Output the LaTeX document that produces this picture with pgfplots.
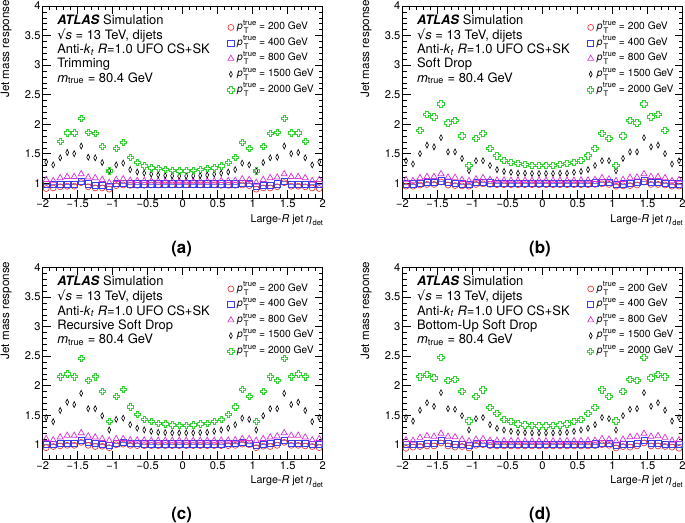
\documentclass[border=0pt]{standalone}
\usepackage{fontspec}
\setmainfont{TeX Gyre Heros}
\newfontfamily\djv{DejaVu Sans}
\usepackage{pgfplots}
\pgfplotsset{compat=1.18}
\usepackage{pgfplotstable}

\definecolor{cr}{RGB}{235,60,60}
\definecolor{cb}{RGB}{60,60,235}
\definecolor{cm}{RGB}{215,50,215}
\definecolor{cg}{RGB}{50,210,50}

\pgfdeclareplotmark{ocross}{%
 \pgfpathmoveto{\pgfqpoint{-0.36\pgfplotmarksize}{\pgfplotmarksize}}%
 \pgfpathlineto{\pgfqpoint{0.36\pgfplotmarksize}{\pgfplotmarksize}}%
 \pgfpathlineto{\pgfqpoint{0.36\pgfplotmarksize}{0.36\pgfplotmarksize}}%
 \pgfpathlineto{\pgfqpoint{\pgfplotmarksize}{0.36\pgfplotmarksize}}%
 \pgfpathlineto{\pgfqpoint{\pgfplotmarksize}{-0.36\pgfplotmarksize}}%
 \pgfpathlineto{\pgfqpoint{0.36\pgfplotmarksize}{-0.36\pgfplotmarksize}}%
 \pgfpathlineto{\pgfqpoint{0.36\pgfplotmarksize}{-\pgfplotmarksize}}%
 \pgfpathlineto{\pgfqpoint{-0.36\pgfplotmarksize}{-\pgfplotmarksize}}%
 \pgfpathlineto{\pgfqpoint{-0.36\pgfplotmarksize}{-0.36\pgfplotmarksize}}%
 \pgfpathlineto{\pgfqpoint{-\pgfplotmarksize}{-0.36\pgfplotmarksize}}%
 \pgfpathlineto{\pgfqpoint{-\pgfplotmarksize}{0.36\pgfplotmarksize}}%
 \pgfpathlineto{\pgfqpoint{-0.36\pgfplotmarksize}{0.36\pgfplotmarksize}}%
 \pgfpathclose\pgfusepathqstroke}

\newcommand{\fs}{\fontsize{13}{14.3}\selectfont}
\newcommand{\lfs}{\fontsize{10.3}{12}\selectfont}
\newcommand{\tfs}{\fontsize{11.2}{12}\selectfont}
\newcommand{\xfs}{\fontsize{10.8}{13}\selectfont}
\newcommand{\yfs}{\fontsize{11.7}{13}\selectfont}
\newcommand{\sfs}{\fontsize{7.7}{9}\selectfont}
\newcommand{\xsfs}{\fontsize{7.6}{9}\selectfont}
\newcommand{\ptt}{\textit{p}\kern0.3pt\makebox[0pt][l]{\raisebox{0.8ex}{\sfs true}}\makebox[0pt][l]{\kern0.8pt\raisebox{-0.75ex}{\sfs T}}\hphantom{\sfs true}}

% columns: eta, 200, 400, 800, 1500, 2000 GeV
\pgfplotstableread{
x r b m k g
-1.95 0.91 0.975 1.06 1.36 nan
-1.85 0.92 0.975 1.04 1.31 nan
-1.75 0.94 0.985 1.09 1.43 1.71
-1.65 0.95 0.985 1.11 1.52 1.85
-1.55 0.95 0.985 1.11 1.50 1.85
-1.45 1.01 1.025 1.155 1.63 2.10
-1.35 0.94 0.99 1.10 1.44 1.86
-1.25 0.92 0.97 1.09 1.43 1.84
-1.15 0.92 0.97 1.06 1.35 1.62
-1.05 0.90 0.953 1.01 1.21 1.21
-0.95 0.96 1.00 1.06 1.31 1.59
-0.85 0.97 1.00 1.07 1.34 1.69
-0.75 0.965 0.99 1.045 1.23 1.44
-0.65 0.965 0.99 1.04 1.19 1.35
-0.55 0.965 0.99 1.04 1.17 1.29
-0.45 0.97 0.99 1.035 1.155 1.26
-0.35 0.97 0.99 1.035 1.14 1.245
-0.25 0.97 0.99 1.03 1.13 1.23
-0.15 0.97 0.99 1.03 1.125 1.215
-0.05 0.97 0.99 1.03 1.12 1.21
0.05 0.97 0.99 1.03 1.12 1.21
0.15 0.97 0.99 1.03 1.125 1.215
0.25 0.97 0.99 1.03 1.13 1.23
0.35 0.97 0.99 1.035 1.14 1.245
0.45 0.97 0.99 1.035 1.155 1.26
0.55 0.965 0.99 1.04 1.17 1.29
0.65 0.965 0.99 1.04 1.19 1.35
0.75 0.965 0.99 1.045 1.23 1.44
0.85 0.97 1.00 1.07 1.34 1.69
0.95 0.96 1.00 1.06 1.31 1.59
1.05 0.90 0.953 1.01 1.21 1.21
1.15 0.92 0.97 1.06 1.35 1.62
1.25 0.92 0.97 1.09 1.43 1.84
1.35 0.94 0.99 1.10 1.44 1.86
1.45 1.01 1.025 1.155 1.63 2.10
1.55 0.95 0.985 1.11 1.50 1.85
1.65 0.95 0.985 1.11 1.52 1.85
1.75 0.94 0.985 1.09 1.43 1.71
1.85 0.92 0.975 1.04 1.31 nan
1.95 0.91 0.975 1.06 1.36 nan
}\tabA

\pgfplotstableread{
x r b m k g
-1.95 0.95 0.99 1.057 1.38 nan
-1.85 0.95 0.99 1.04 1.325 nan
-1.75 0.97 1.00 1.09 1.50 1.89
-1.65 0.98 1.01 1.11 1.645 2.16
-1.55 0.98 1.01 1.11 1.615 2.12
-1.45 1.02 1.04 1.157 1.77 2.34
-1.35 0.97 1.01 1.10 1.53 2.02
-1.25 0.96 1.00 1.095 1.53 2.06
-1.15 0.955 0.99 1.06 1.42 1.80
-1.05 0.95 0.98 1.04 1.21 1.30
-0.95 0.98 1.01 1.07 1.38 1.76
-0.85 0.99 1.02 1.09 1.38 1.845
-0.75 0.98 1.005 1.06 1.30 1.59
-0.65 0.975 1.00 1.05 1.23 1.465
-0.55 0.975 1.00 1.05 1.20 1.385
-0.45 0.975 1.00 1.045 1.185 1.35
-0.35 0.975 1.00 1.045 1.17 1.33
-0.25 0.975 1.00 1.045 1.17 1.315
-0.15 0.975 1.00 1.045 1.165 1.305
-0.05 0.975 1.00 1.045 1.165 1.30
0.05 0.975 1.00 1.045 1.165 1.30
0.15 0.975 1.00 1.045 1.165 1.305
0.25 0.975 1.00 1.045 1.17 1.315
0.35 0.975 1.00 1.045 1.17 1.33
0.45 0.975 1.00 1.045 1.185 1.35
0.55 0.975 1.00 1.05 1.20 1.385
0.65 0.975 1.00 1.05 1.23 1.465
0.75 0.98 1.005 1.06 1.30 1.59
0.85 0.99 1.02 1.09 1.38 1.845
0.95 0.98 1.01 1.07 1.38 1.76
1.05 0.95 0.98 1.04 1.21 1.30
1.15 0.955 0.99 1.06 1.42 1.80
1.25 0.96 1.00 1.095 1.53 2.06
1.35 0.97 1.01 1.10 1.53 2.02
1.45 1.02 1.04 1.157 1.77 2.34
1.55 0.98 1.01 1.11 1.615 2.12
1.65 0.98 1.01 1.11 1.645 2.16
1.75 0.97 1.00 1.09 1.50 1.89
1.85 0.95 0.99 1.04 1.325 nan
1.95 0.95 0.99 1.057 1.38 nan
}\tabB

\pgfplotstableread{
x r b m k g
-1.95 0.95 1.01 1.10 1.46 nan
-1.85 0.97 1.01 1.08 1.39 nan
-1.75 0.98 1.02 1.127 1.58 2.15
-1.65 0.99 1.03 1.155 1.72 2.20
-1.55 0.99 1.03 1.155 1.68 2.15
-1.45 1.04 1.08 1.20 1.87 2.46
-1.35 0.99 1.04 1.145 1.61 2.09
-1.25 0.97 1.02 1.127 1.61 2.15
-1.15 0.975 1.01 1.10 1.49 1.90
-1.05 0.95 0.995 1.07 1.25 1.39
-0.95 1.00 1.03 1.10 1.43 1.82
-0.85 1.01 1.035 1.10 1.45 1.94
-0.75 0.99 1.02 1.08 1.34 1.64
-0.65 0.985 1.02 1.075 1.28 1.51
-0.55 0.985 1.015 1.075 1.25 1.43
-0.45 0.985 1.015 1.07 1.227 1.39
-0.35 0.985 1.015 1.07 1.21 1.365
-0.25 0.985 1.015 1.07 1.205 1.35
-0.15 0.985 1.015 1.07 1.20 1.337
-0.05 0.985 1.015 1.07 1.20 1.33
0.05 0.985 1.015 1.07 1.20 1.33
0.15 0.985 1.015 1.07 1.20 1.337
0.25 0.985 1.015 1.07 1.205 1.35
0.35 0.985 1.015 1.07 1.21 1.365
0.45 0.985 1.015 1.07 1.227 1.39
0.55 0.985 1.015 1.075 1.25 1.43
0.65 0.985 1.02 1.075 1.28 1.51
0.75 0.99 1.02 1.08 1.34 1.64
0.85 1.01 1.035 1.10 1.45 1.94
0.95 1.00 1.03 1.10 1.43 1.82
1.05 0.95 0.995 1.07 1.25 1.39
1.15 0.975 1.01 1.10 1.49 1.90
1.25 0.97 1.02 1.127 1.61 2.15
1.35 0.99 1.04 1.145 1.61 2.09
1.45 1.04 1.08 1.20 1.87 2.46
1.55 0.99 1.03 1.155 1.68 2.15
1.65 0.99 1.03 1.155 1.72 2.20
1.75 0.98 1.02 1.127 1.58 2.15
1.85 0.97 1.01 1.08 1.39 nan
1.95 0.95 1.01 1.10 1.46 nan
}\tabC

\pgfplotstableread{
x r b m k g
-1.95 0.94 1.00 1.08 1.46 nan
-1.85 0.96 1.00 1.07 1.40 nan
-1.75 0.97 1.01 1.12 1.585 2.15
-1.65 0.98 1.02 1.15 1.71 2.19
-1.55 0.98 1.02 1.14 1.65 2.13
-1.45 1.03 1.07 1.19 1.88 2.48
-1.35 0.98 1.03 1.14 1.61 2.09
-1.25 0.96 1.01 1.13 1.60 2.11
-1.15 0.97 1.00 1.09 1.49 1.90
-1.05 0.945 0.985 1.06 1.25 1.40
-0.95 0.99 1.02 1.09 1.44 1.82
-0.85 1.00 1.03 1.10 1.46 1.93
-0.75 0.985 1.015 1.07 1.34 1.635
-0.65 0.98 1.01 1.07 1.28 1.525
-0.55 0.98 1.01 1.065 1.25 1.43
-0.45 0.98 1.01 1.065 1.227 1.39
-0.35 0.98 1.01 1.065 1.21 1.35
-0.25 0.98 1.01 1.06 1.205 1.337
-0.15 0.98 1.01 1.06 1.20 1.33
-0.05 0.98 1.01 1.06 1.20 1.32
0.05 0.98 1.01 1.06 1.20 1.32
0.15 0.98 1.01 1.06 1.20 1.33
0.25 0.98 1.01 1.06 1.205 1.337
0.35 0.98 1.01 1.065 1.21 1.35
0.45 0.98 1.01 1.065 1.227 1.39
0.55 0.98 1.01 1.065 1.25 1.43
0.65 0.98 1.01 1.07 1.28 1.525
0.75 0.985 1.015 1.07 1.34 1.635
0.85 1.00 1.03 1.10 1.46 1.93
0.95 0.99 1.02 1.09 1.44 1.82
1.05 0.945 0.985 1.06 1.25 1.40
1.15 0.97 1.00 1.09 1.49 1.90
1.25 0.96 1.01 1.13 1.60 2.11
1.35 0.98 1.03 1.14 1.61 2.09
1.45 1.03 1.07 1.19 1.88 2.48
1.55 0.98 1.02 1.14 1.65 2.13
1.65 0.98 1.02 1.15 1.71 2.19
1.75 0.97 1.01 1.12 1.585 2.15
1.85 0.96 1.00 1.07 1.40 nan
1.95 0.94 1.00 1.08 1.46 nan
}\tabD

\pgfplotsset{
 sr/.style={only marks, mark=o, mark size=3.0bp, color=cr, mark options={line width=0.7pt}},
 sb/.style={only marks, mark=square, mark size=3.1bp, color=cb, mark options={line width=0.7pt}},
 sm/.style={only marks, mark=triangle, mark size=3.5bp, color=cm, mark options={line width=0.7pt}},
 sk/.style={only marks, mark=diamond, mark size=3.0bp, color=black, mark options={line width=0.6pt, xscale=0.65}},
 sg/.style={only marks, mark=ocross, mark size=3.2bp, color=cg, mark options={line width=0.9pt}},
 lgd/.style={legend image code/.code={\draw[mark repeat=2,mark phase=2,##1] plot coordinates {(0bp,0bp) (4.5bp,0bp) (9bp,0bp)};}},
 panel/.style={
  scale only axis, width=280bp, height=192bp,
  xmin=-2, xmax=2, ymin=0.75, ymax=4,
  xtick={-2,-1.5,-1,-0.5,0,0.5,1,1.5,2},
  xticklabels={−2,−1.5,−1,−0.5,0,0.5,1,1.5,2},
  ytick={1,1.5,2,2.5,3,3.5,4},
  yticklabels={1,1.5,2,2.5,3,3.5,4},
  minor x tick num=4, minor y tick num=4,
  tick align=inside, major tick length=8bp, minor tick length=4bp,
  tick style={black, line width=0.5pt},
  axis line style={line width=0.6pt},
  ticklabel style={font=\tfs},
  xticklabel style={inner sep=1.5pt},
  yticklabel style={inner sep=2pt},
  clip=false,
  legend cell align=left,
  legend style={at={(rel axis cs:0.66,0.93)}, anchor=north west, draw=none, fill=none,
    font=\lfs, inner sep=0pt, row sep=0pt,
    nodes={inner xsep=3bp, inner ysep=0pt, text height=10bp, text depth=5.6bp}},
 },
}

\newcommand{\panel}[2]{%
  \addplot[sr, forget plot] table[x=x,y=r] {#1};
  \addplot[sb, forget plot, error bars/.cd, x dir=both, x fixed=0.05, error mark=none,
     error bar style={line width=0.5pt, cb!70!white}] table[x=x,y=b] {#1};
  \addplot[sm, forget plot] table[x=x,y=m] {#1};
  \addplot[sk, forget plot] table[x=x,y=k] {#1};
  \addplot[sg, forget plot] table[x=x,y=g] {#1};
  \addlegendimage{sr,lgd}\addlegendentry{\ptt{} = 200 GeV}
  \addlegendimage{sb,lgd}\addlegendentry{\ptt{} = 400 GeV}
  \addlegendimage{sm,lgd}\addlegendentry{\ptt{} = 800 GeV}
  \addlegendimage{sk,lgd}\addlegendentry{\ptt{} = 1500 GeV}
  \addlegendimage{sg,lgd}\addlegendentry{\ptt{} = 2000 GeV}
  \node[anchor=base west, inner sep=0pt, font=\fs] at ([xshift=14.4bp,yshift=-18.5bp]rel axis cs:0,1)
   {\begin{tabular}[t]{@{}l@{}}\textbf{\textit{ATLAS}}\ Simulation\\
     {\djv √}\textit{s} = 13 TeV, dijets\\
     Anti-\textit{k}\textsubscript{\textit{t}} \textit{R}=1.0 UFO CS+SK\\
     #2\\
     \textit{m}\textsubscript{true} = 80.4 GeV\end{tabular}};
  \node[anchor=base east, inner sep=0pt, font=\xfs] at ([xshift=0.5bp,yshift=-24.5bp]rel axis cs:1,0)
   {Large-\textit{R} jet \textit{η}\raisebox{-0.6ex}{\xsfs det}};
  \node[rotate=90, anchor=north east, inner sep=0pt, font=\yfs] at ([xshift=-42.2bp,yshift=6bp]rel axis cs:0,1)
   {Jet mass response};
}

\begin{document}
\begin{tikzpicture}[x=1bp,y=1bp]
\useasboundingbox (0,0) rectangle (685,523);

\begin{axis}[panel, at={(42.7bp,325bp)}, anchor=south west]
\panel{\tabA}{Trimming}
\end{axis}

\begin{axis}[panel, at={(402.5bp,325bp)}, anchor=south west]
\panel{\tabB}{Soft Drop}
\end{axis}

\begin{axis}[panel, at={(42.7bp,63.5bp)}, anchor=south west]
\panel{\tabC}{Recursive Soft Drop}
\end{axis}

\begin{axis}[panel, at={(402.5bp,63.5bp)}, anchor=south west]
\panel{\tabD}{Bottom-Up Soft Drop}
\end{axis}

\node[font=\fontsize{17}{19}\selectfont\bfseries] at (181.7,274) {(a)};
\node[font=\fontsize{17}{19}\selectfont\bfseries] at (540,274) {(b)};
\node[font=\fontsize{17}{19}\selectfont\bfseries] at (181.7,8) {(c)};
\node[font=\fontsize{17}{19}\selectfont\bfseries] at (540,8) {(d)};
\end{tikzpicture}
\end{document}
